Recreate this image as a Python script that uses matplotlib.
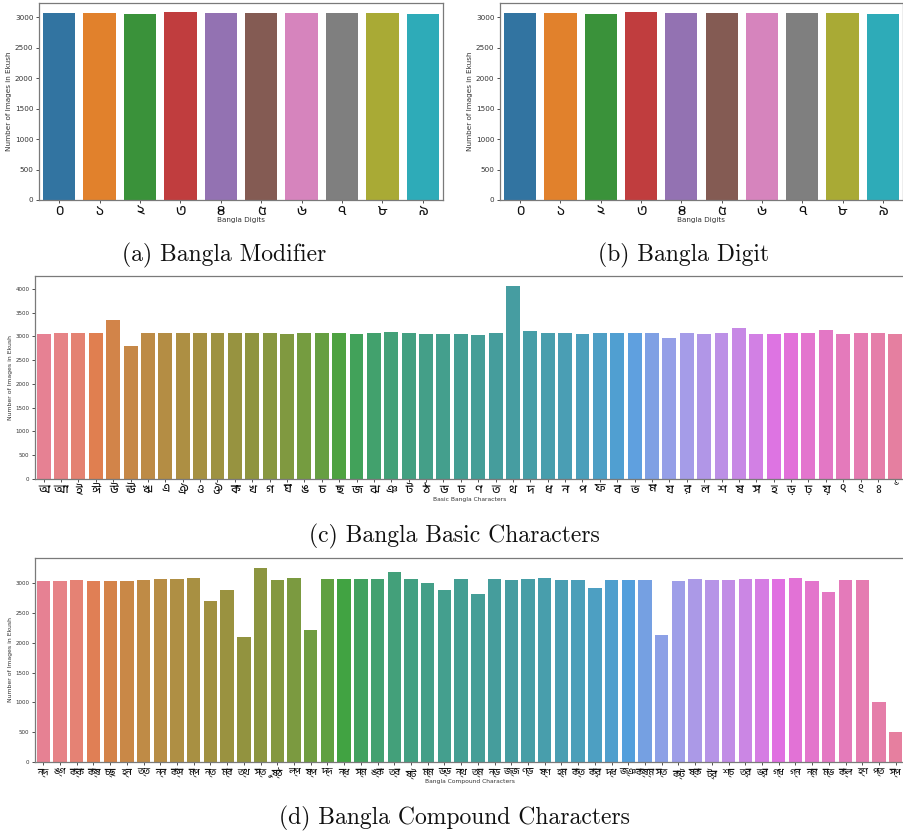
import matplotlib
matplotlib.use("Agg")
import matplotlib.pyplot as plt
import seaborn as sns
from matplotlib import font_manager
from matplotlib.ft2font import FT2Font

# ---------------- data ----------------
digit_labels = ["০", "১", "২", "৩", "৪", "৫", "৬", "৭", "৮", "৯"]
modifier_counts = [3070, 3075, 3063, 3082, 3078, 3068, 3075, 3078, 3078, 3060]
digit_counts = [3070, 3075, 3063, 3082, 3078, 3068, 3075, 3078, 3078, 3060]

basic_labels = ["অ", "আ", "ই", "ঈ", "উ", "ঊ", "ঋ", "এ", "ঐ", "ও", "ঔ",
                "ক", "খ", "গ", "ঘ", "ঙ", "চ", "ছ", "জ", "ঝ", "ঞ",
                "ট", "ঠ", "ড", "ঢ", "ণ", "ত", "থ", "দ", "ধ", "ন",
                "প", "ফ", "ব", "ভ", "ম", "য", "র", "ল", "শ", "ষ",
                "স", "হ", "ড়", "ঢ়", "য়", "ৎ", "ং", "ঃ", "ঁ"]
basic_counts = [3063, 3077, 3084, 3077, 3357, 2806, 3077, 3077, 3084, 3084, 3084,
                3077, 3077, 3077, 3063, 3077, 3077, 3077, 3063, 3084, 3098,
                3077, 3063, 3063, 3042, 3028, 3084, 4070, 3112, 3077, 3084,
                3063, 3084, 3077, 3077, 3084, 2972, 3084, 3063, 3077, 3175,
                3056, 3056, 3084, 3084, 3147, 3063, 3084, 3077, 3056]

compound_labels = ["ন্দ", "ঙ্গ", "ক্ক", "ক্ষ", "চ্ছ", "হ্ন", "ত্ত", "ন্ন", "ক্স", "ম্প",
                   "ন্ত", "ম্ব", "ত্থ", "স্তু", "ষ্ঠ", "ল্প", "ষ্প", "দ্দ", "ন্ধ", "স্ম",
                   "ঙ্ক", "ত্ব", "ষ্ট", "ম্ম", "ড্ড", "ন্থ", "ত্ম", "ন্ড", "জ্জ", "ণ্ড",
                   "ষ্ণ", "হ্ম", "ক্ত", "ক্র", "দ্ধ", "জ্ঞ", "ক্ষ্ম", "স্ত", "ক্ট", "ষ্ক",
                   "ট্র", "শ্চ", "ত্র", "ভ্র", "গ্ধ", "গ্ন", "ন্ম", "ম্ভ", "ক্ল", "হ্ণ",
                   "প্ত", "স্প"]
compound_counts = [3039, 3039, 3055, 3039, 3039, 3039, 3050, 3067, 3067, 3084,
                   2697, 2888, 2093, 3257, 3055, 3084, 2216, 3067, 3067, 3072,
                   3067, 3190, 3067, 3000, 2888, 3067, 2815, 3067, 3055, 3067,
                   3078, 3050, 3055, 2916, 3055, 3055, 3044, 2132, 3039, 3067,
                   3050, 3055, 3067, 3067, 3067, 3078, 3039, 2843, 3050, 3055,
                   1013, 509]

ylabel_text = "Number of Images in Ekush"


# ---------------- fonts ----------------
def find_bengali_font():
    found = []
    seen = set()
    for f in font_manager.fontManager.ttflist:
        if f.fname in seen:
            continue
        seen.add(f.fname)
        try:
            cmap = FT2Font(f.fname).get_charmap()
            if 0x0995 in cmap and 0x09A5 in cmap and 0x09E6 in cmap:
                found.append(f.name)
        except Exception:
            pass

    def rank(name):
        n = name.lower()
        if "bengali" in n or "bangla" in n:
            return 0
        if "lohit" in n:
            return 1
        if "freesans" in n:
            return 2
        if "freeserif" in n:
            return 3
        if "unifont" in n:
            return 9
        return 5

    found.sort(key=rank)
    return found[0] if found else None


beng = find_bengali_font()
tick_family = [beng, "DejaVu Sans"] if beng else ["DejaVu Sans"]

W, H = 904, 834
fig = plt.figure(figsize=(W / 100, H / 100), dpi=100)


def rect(left, top, right, bottom):
    return [left / W, 1 - bottom / H, (right - left) / W, (bottom - top) / H]


spine_color = "#7a7a7a"


def draw(ax, labels, values, colors, xlabel, ytick_fs, ylabel_fs, xtick_fs,
         xlabel_fs):
    x = list(range(len(values)))
    ax.bar(x, values, width=0.8, color=colors, edgecolor="none")
    ax.set_xlim(-0.5, len(values) - 0.5)
    ax.set_ylim(0, max(values) * 1.05)
    ax.set_xticks(x)
    ax.set_xticklabels(labels, fontsize=xtick_fs, family=tick_family,
                       color="#111111")
    ax.tick_params(axis="x", length=2.5, width=0.6, pad=1.5, color="#333333")
    ax.tick_params(axis="y", length=2.5, width=0.6, pad=1.5, color="#333333",
                   labelsize=ytick_fs, labelcolor="#333333")
    ax.set_xlabel(xlabel, fontsize=xlabel_fs, color="#333333", labelpad=0.5)
    ax.set_ylabel(ylabel_text, fontsize=ylabel_fs, color="#333333", labelpad=2)
    for s in ax.spines.values():
        s.set_color(spine_color)
        s.set_linewidth(0.9)


def desat(cols, prop=0.75):
    return [sns.desaturate(c, prop) for c in cols]


tab = desat(sns.color_palette("tab10", 10))
pal_basic = desat(sns.husl_palette(len(basic_counts)))
pal_comp = desat(sns.husl_palette(len(compound_counts)))

ax_a = fig.add_axes(rect(39, 3, 443, 200))
draw(ax_a, digit_labels, modifier_counts, tab, "Bangla Digits", 5.2, 5.2, 10, 5.2)
ax_a.set_yticks(range(0, 3001, 500))

ax_b = fig.add_axes(rect(500, 3, 903, 200))
draw(ax_b, digit_labels, digit_counts, tab, "Bangla Digits", 5.2, 5.2, 10, 5.2)
ax_b.set_yticks(range(0, 3001, 500))

ax_c = fig.add_axes(rect(35, 276, 904, 479))
draw(ax_c, basic_labels, basic_counts, pal_basic, "Basic Bangla Characters",
     4.0, 4.4, 8.5, 4.3)
ax_c.set_yticks(range(0, 4001, 500))

ax_d = fig.add_axes(rect(35, 558, 904, 762))
draw(ax_d, compound_labels, compound_counts, pal_comp, "Bangla Compound Characters",
     4.0, 4.4, 6.5, 4.3)
ax_d.set_yticks(range(0, 3001, 500))

cap_font = dict(family="cmr10", fontsize=17, color="#111111", ha="center", va="center")
fig.text(224 / W, 1 - 255 / H, "(a) Bangla Modifier", **cap_font)
fig.text(684 / W, 1 - 255 / H, "(b) Bangla Digit", **cap_font)
fig.text(454 / W, 1 - 536 / H, "(c) Bangla Basic Characters", **cap_font)
fig.text(454 / W, 1 - 818 / H, "(d) Bangla Compound Characters", **cap_font)

fig.savefig("out.png", dpi=100, facecolor="white")
